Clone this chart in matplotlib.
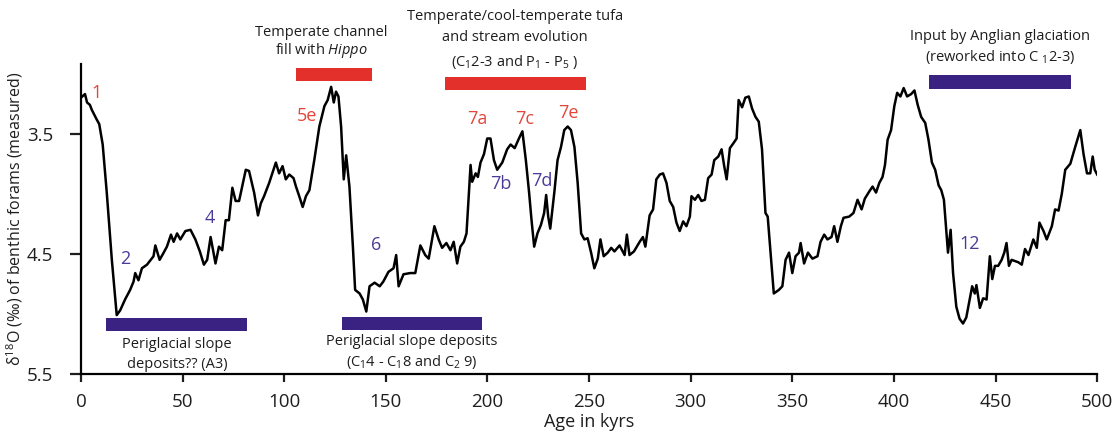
import matplotlib as mpl
mpl.use('Agg')
import matplotlib.pyplot as plt
import numpy as np

# benthic d18O record: age (kyr) vs d18O (permil)
age = [0, 2, 3, 4.4, 5.3, 7.7, 9, 10.7, 12.7, 15.2, 17.6, 19.3, 21.7, 24.2, 25.9, 26.7, 28.3, 30, 32.5,
       35.7, 36.6, 38.7, 40.7, 42.3, 44.3, 45.6, 47.3, 48.9, 51.4, 53.9, 56.3, 58.5, 60.5, 62.1, 63.8,
       66.2, 67.9, 69.5, 71.2, 72.8, 74.5, 76.1, 77.8, 81.1, 82.7, 85.2, 87.1, 88.5, 90.1, 92.6, 95.9,
       97.5, 99.2, 100.8, 102.5, 104.6, 105.8, 107.4, 109.1, 110.7, 112.4, 114.8, 117.3, 119.8, 121.4,
       123.1, 124.4, 125.5, 126.7, 128, 129.3, 130.5, 132.1, 133.8, 134.9, 137.1, 138.7, 140.4, 142,
       144.5, 147, 148.8, 151.3, 153.8, 155.1, 156.3, 158.7, 162, 164.5, 167, 169.4, 171.1, 173.9, 176,
       177.7, 179.8, 181.8, 183.4, 185.1, 186.7, 188.4, 189.7, 191.7, 192.5, 194.2, 195.3, 196.6, 198.3,
       199.9, 201.5, 203.2, 204.8, 207.3, 209.7, 211.4, 213.4, 215.5, 217.2, 218.9, 220.5, 221.7, 223,
       224.6, 226.3, 227.9, 228.9, 229.9, 230.9, 232.9, 234.5, 236.2, 237.8, 239.5, 241.1, 242.8, 244.4,
       246.1, 247.7, 249.3, 251, 252.6, 254.3, 255.6, 257.2, 259.2, 260.9, 262.5, 265, 267.5, 268.6,
       269.9, 272.1, 274.9, 276.5, 277.7, 279.8, 281.5, 283.1, 284.8, 286.4, 288.1, 289.7, 291.4, 293,
       294.6, 296.3, 297.9, 299.6, 300.4, 302.1, 303.7, 305.3, 307, 308.6, 310.3, 311.6, 313.6, 315.2,
       316.5, 317.7, 319.3, 321, 322.6, 323.6, 325.3, 326.9, 328.6, 330.2, 331.9, 333.5, 335.1, 336.8,
       337.9, 339.3, 340.9, 343.4, 345.1, 346.7, 348.4, 350, 351.6, 353.3, 354.1, 355.8, 357.7, 359.9,
       362.4, 363.9, 365.7, 367.3, 369.3, 370.6, 372.2, 373.9, 375.2, 378, 380.1, 382.1, 384.1, 385.7,
       387.9, 389.5, 391.2, 392.8, 394.4, 395.6, 396.9, 398.6, 400.2, 401.6, 403.2, 404.8, 406.5, 408.5,
       410.1, 411.7, 413.4, 415.4, 417, 418.7, 420.3, 422, 423.3, 424.6, 425.8, 426.6, 427.9, 429.1,
       430.7, 432.3, 434, 435.6, 437.3, 438.5, 439.8, 440.6, 442.3, 443.9, 445.6, 447.2, 448.4, 449.7,
       451.3, 453, 454.3, 455.4, 456.6, 457.9, 459.6, 461.2, 462.9, 464.5, 466.2, 468.6, 470.3, 471.6,
       473.6, 475.2, 477.7, 479.3, 481, 482.6, 484.3, 486.8, 489.2, 491.7, 493.3, 495, 496.6, 497.8,
       498.8, 500]
d18o = [3.20, 3.17, 3.24, 3.26, 3.30, 3.38, 3.42, 3.59, 3.99, 4.55, 5.01, 4.97, 4.88, 4.80, 4.73, 4.66,
        4.72, 4.62, 4.59, 4.52, 4.43, 4.55, 4.49, 4.44, 4.34, 4.40, 4.33, 4.38, 4.31, 4.30, 4.38, 4.48,
        4.59, 4.55, 4.36, 4.58, 4.44, 4.47, 4.22, 4.22, 3.95, 4.06, 4.06, 3.80, 3.81, 3.99, 4.18, 4.08,
        4.02, 3.91, 3.74, 3.83, 3.77, 3.88, 3.84, 3.87, 3.94, 4.02, 4.11, 4.02, 3.97, 3.72, 3.44, 3.27,
        3.22, 3.11, 3.24, 3.15, 3.19, 3.44, 3.88, 3.68, 3.94, 4.44, 4.80, 4.83, 4.88, 4.98, 4.77, 4.74,
        4.77, 4.73, 4.65, 4.62, 4.51, 4.77, 4.67, 4.66, 4.66, 4.43, 4.51, 4.54, 4.27, 4.38, 4.45, 4.41,
        4.47, 4.40, 4.58, 4.44, 4.40, 4.33, 3.76, 3.90, 3.83, 3.86, 3.74, 3.67, 3.54, 3.54, 3.72, 3.80,
        3.74, 3.63, 3.59, 3.62, 3.54, 3.48, 3.72, 3.99, 4.22, 4.44, 4.33, 4.26, 4.16, 4.01, 4.19, 4.29,
        3.99, 3.72, 3.61, 3.47, 3.44, 3.47, 3.61, 3.91, 4.33, 4.38, 4.37, 4.49, 4.62, 4.54, 4.38, 4.52,
        4.49, 4.45, 4.48, 4.43, 4.51, 4.34, 4.51, 4.48, 4.40, 4.36, 4.44, 4.18, 4.13, 3.88, 3.84, 3.83,
        3.91, 4.06, 4.11, 4.24, 4.31, 4.23, 4.27, 4.19, 4.02, 4.05, 4.01, 4.06, 4.05, 3.87, 3.84, 3.72,
        3.69, 3.63, 3.77, 3.88, 3.62, 3.58, 3.54, 3.22, 3.28, 3.20, 3.19, 3.29, 3.36, 3.40, 3.63, 4.16,
        4.19, 4.49, 4.83, 4.80, 4.77, 4.55, 4.49, 4.66, 4.52, 4.49, 4.41, 4.58, 4.49, 4.54, 4.52, 4.40,
        4.34, 4.38, 4.36, 4.27, 4.40, 4.27, 4.20, 4.19, 4.16, 4.05, 4.13, 4.04, 3.98, 3.94, 3.99, 3.91,
        3.86, 3.76, 3.55, 3.47, 3.27, 3.16, 3.19, 3.12, 3.19, 3.17, 3.14, 3.26, 3.36, 3.41, 3.55, 3.74,
        3.80, 3.93, 3.97, 4.05, 4.31, 4.49, 4.30, 4.66, 4.94, 5.04, 5.08, 5.03, 4.88, 4.77, 4.83, 4.76,
        4.95, 4.87, 4.88, 4.52, 4.71, 4.60, 4.60, 4.55, 4.49, 4.41, 4.60, 4.55, 4.56, 4.57, 4.59, 4.46,
        4.51, 4.38, 4.45, 4.24, 4.31, 4.38, 4.27, 4.13, 4.14, 4.00, 3.80, 3.75, 3.61, 3.47, 3.67, 3.83,
        3.83, 3.69, 3.80, 3.84]

# interval bars: start, end (kyr), level (d18O)
warm_bar_start = [106, 179]
warm_bar_end = [143, 248.5]
warm_bar_level = [3.01, 3.08]
cold_bar_start = [12.3, 128.3, 417.5]
cold_bar_end = [81.5, 197.2, 487.1]
cold_bar_level = [5.09, 5.08, 3.07]

# stage labels
warm_labels = ['1', '5e', '7a', '7c', '7e']
warm_label_x = [7.9, 111.3, 195.1, 218.5, 239.7]
warm_label_y = [3.16, 3.35, 3.38, 3.38, 3.33]
cold_labels = ['2', '4', '6', '7b', '7d', '12']
cold_label_x = [21.7, 63.5, 145.2, 206.7, 226.9, 437.5]
cold_label_y = [4.54, 4.20, 4.43, 3.92, 3.89, 4.42]

# annotation texts
notes = ['Temperate channel\nfill with $\\mathit{Hippo}$',
         'Temperate/cool-temperate tufa\nand stream evolution\n(C$_1$2-3 and P$_1$ - P$_5$ )',
         'Input by Anglian glaciation\n(reworked into C $_1$2-3)',
         'Periglacial slope\ndeposits?? (A3)',
         'Periglacial slope deposits\n(C$_1$4 - C$_1$8 and C$_2$ 9)']
note_x = [118.3, 213.6, 452.3, 47.2, 162.6]
note_y = [2.74, 2.717, 2.78, 5.34, 5.32]
note_spacing = [1.07, 1.59, 1.31, 1.47, 1.32]

RED = '#e3302b'
BLUE = '#3a2283'
RED_TXT = '#e2463b'
BLUE_TXT = '#4b3b99'

plt.rcParams['font.family'] = ['Open Sans', 'DejaVu Sans']
plt.rcParams['mathtext.fontset'] = 'custom'
plt.rcParams['mathtext.rm'] = 'Open Sans'
plt.rcParams['mathtext.it'] = 'Open Sans:italic'
plt.rcParams['mathtext.default'] = 'rm'

fig = plt.figure(figsize=(11.15, 4.37), dpi=100)
ax = fig.add_axes([0.0726, 0.1442, 0.9114, 0.7093])

ax.plot(age, d18o, color='black', lw=1.8, zorder=3)

# bars drawn as horizontal bars in data units
ax.barh(warm_bar_level, np.subtract(warm_bar_end, warm_bar_start), left=warm_bar_start,
        height=0.11, color=RED, zorder=2)
ax.barh(cold_bar_level, np.subtract(cold_bar_end, cold_bar_start), left=cold_bar_start,
        height=0.11, color=BLUE, zorder=2)

for s, x, y in zip(warm_labels, warm_label_x, warm_label_y):
    ax.text(x, y, s, color=RED_TXT, fontsize=13, ha='center', va='center')
for s, x, y in zip(cold_labels, cold_label_x, cold_label_y):
    ax.text(x, y, s, color=BLUE_TXT, fontsize=13, ha='center', va='center')
for s, x, y, ls in zip(notes, note_x, note_y, note_spacing):
    ax.text(x, y, s, color='#1e1e1e', fontsize=10.5, ha='center', va='center',
            linespacing=ls, clip_on=False)

ax.set_xlim(0, 500)
ax.set_ylim(5.5, 2.92)
ax.set_xticks(np.arange(0, 501, 50))
ax.set_yticks([3.5, 4.5, 5.5])
ax.set_yticklabels(['3.5', '4.5', '5.5'])

for side in ['top', 'right']:
    ax.spines[side].set_visible(False)
for side in ['left', 'bottom']:
    ax.spines[side].set_linewidth(1.6)

ax.tick_params(axis='x', length=6, width=1.6, pad=8, labelsize=13.5, colors='#1e1e1e')
ax.tick_params(axis='y', length=8, width=1.6, pad=12, labelsize=13.5, colors='#1e1e1e')

ax.set_xlabel('Age in kyrs', fontsize=13, color='#1e1e1e', labelpad=1)
ax.set_ylabel('δ$^{18}$O (‰) of benthic forams (measured)', fontsize=11.5, color='#1e1e1e',
              labelpad=1)

fig.savefig('out.png', dpi=100)
